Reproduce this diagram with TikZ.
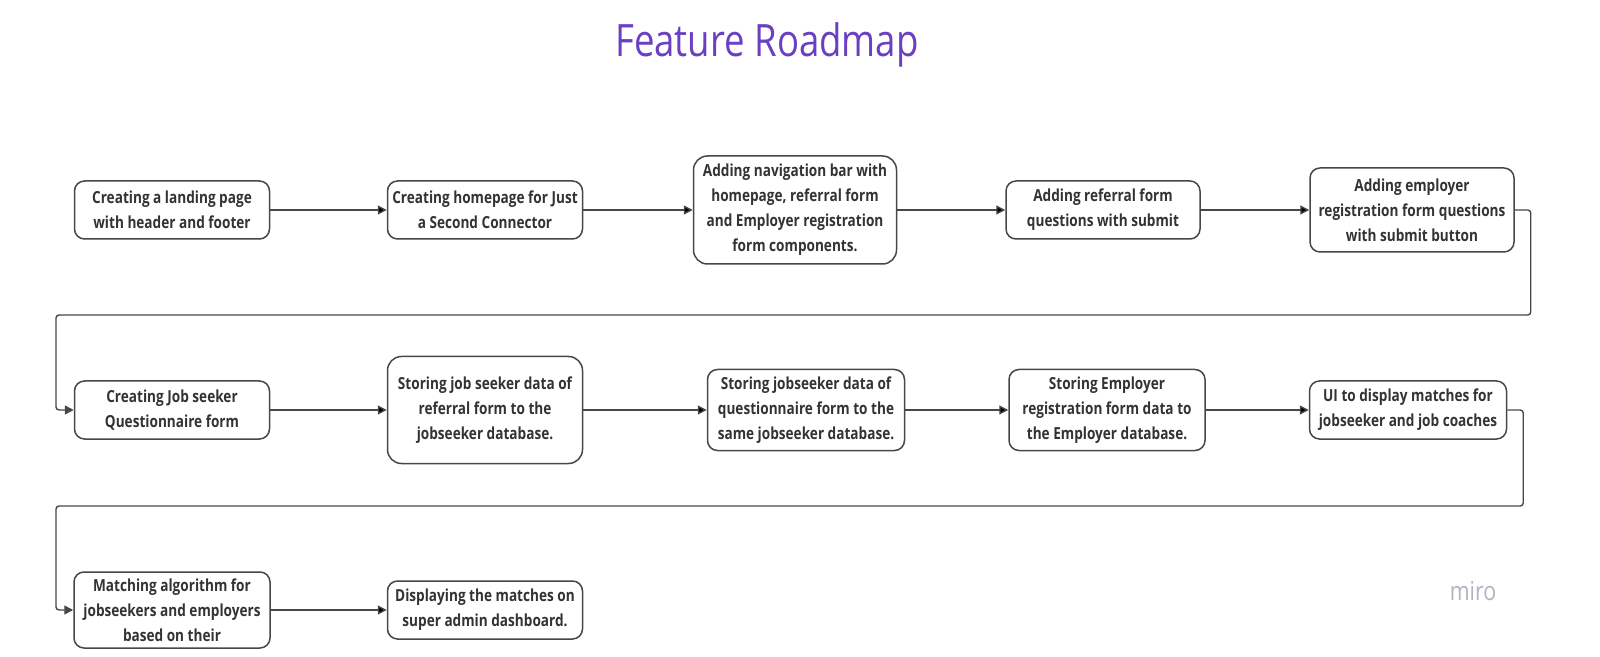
\documentclass[tikz,border=0pt]{standalone}
\usepackage{fontspec}
\setmainfont{Open Sans}[FakeStretch=0.82]
\newfontfamily\taskfont{Open Sans}[FakeStretch=0.82]
\usetikzlibrary{positioning,arrows.meta}

\definecolor{boxline}{HTML}{474747}
\definecolor{boxtext}{HTML}{333333}
\definecolor{titlepurple}{HTML}{6B3FC2}
\definecolor{watermark}{HTML}{B0B4C0}

\tikzset{
  task/.style={draw=boxline, line width=0.75pt, rounded corners=5pt, align=center,
    text=boxtext, inner xsep=1pt, inner ysep=2pt, minimum width=97.5pt,
    minimum height=29pt,
    font=\taskfont\bfseries\fontsize{8.3pt}{12.5pt}\selectfont},
  flow/.style={draw=boxline, line width=0.7pt, rounded corners=1.5pt,
    -{Triangle[length=4.5pt,width=4.5pt]}}
}

\begin{document}
\begin{tikzpicture}[node distance=155pt,on grid,auto]
   \useasboundingbox (0,0) rectangle (800pt,-328.5pt);
   \node[anchor=base, text=titlepurple, font=\fontsize{22.3pt}{26pt}\selectfont] (title) at (383.5pt,-28.5pt) {Feature Roadmap};

   % first row
   \node[task] (b1) at (86pt,-105pt) {Creating a landing page\\ with header and footer};
   \node[task] (b2) [right=156.5pt of b1] {Creating homepage for Just\\ a Second Connector};
   \node[task, rounded corners=7pt, minimum width=101.5pt, minimum height=54pt] (b3) [right=of b2] {Adding navigation bar with\\ homepage, referral form\\ and Employer registration\\ form components.};
   \node[task, minimum width=97pt] (b4) [right=154pt of b3] {Adding referral form\\ questions with submit};
   \node[task, minimum width=102pt, minimum height=42pt] (b5) [right=154.5pt of b4] {Adding employer\\ registration form questions\\ with submit button};

   % second row
   \node[task] (b6) [below=100pt of b1] {Creating Job seeker\\ Questionnaire form};
   \node[task, rounded corners=7pt, minimum height=53.5pt] (b7) [right=156.5pt of b6] {Storing job seeker data of\\ referral form to the\\ jobseeker database.};
   \node[task, minimum width=98.5pt, minimum height=40.5pt] (b8) [right=160.5pt of b7] {Storing jobseeker data of\\ questionnaire form to the\\ same jobseeker database.};
   \node[task, minimum width=98pt, minimum height=40.5pt] (b9) [right=150.5pt of b8] {Storing Employer\\ registration form data to\\ the Employer database.};
   \node[task, minimum width=98.5pt] (b10) [right=150.5pt of b9] {UI to display matches for\\ jobseeker and job coaches};

   % third row
   \node[task, minimum width=98pt, minimum height=38pt, inner ysep=0pt] (b11) [below=100pt of b6] {Matching algorithm for\\ jobseekers and employers\\ based on their};
   \node[task] (b12) [right=156.5pt of b11] {Displaying the matches on\\ super admin dashboard.};

   \node[text=watermark, font=\fontsize{13pt}{15pt}\selectfont, anchor=base] (miro) at (736.5pt,-300pt) {miro};

   % turns between rows
   \coordinate (r1) at ([xshift=8pt]b5.east);
   \coordinate (l1) at (28pt,-157.5pt);
   \coordinate (r2) at ([xshift=8pt]b10.east);
   \coordinate (l2) at (28pt,-253pt);

   \path[flow]
    (b1) edge (b2)
    (b2) edge (b3)
    (b3) edge (b4)
    (b4) edge (b5)
    (b6) edge (b7)
    (b7) edge (b8)
    (b8) edge (b9)
    (b9) edge (b10)
    (b11) edge (b12);
   \draw[flow] (b5.east) -- (r1) |- (l1) |- (b6.west);
   \draw[flow] (b10.east) -- (r2) |- (l2) |- (b11.west);
\end{tikzpicture}
\end{document}
